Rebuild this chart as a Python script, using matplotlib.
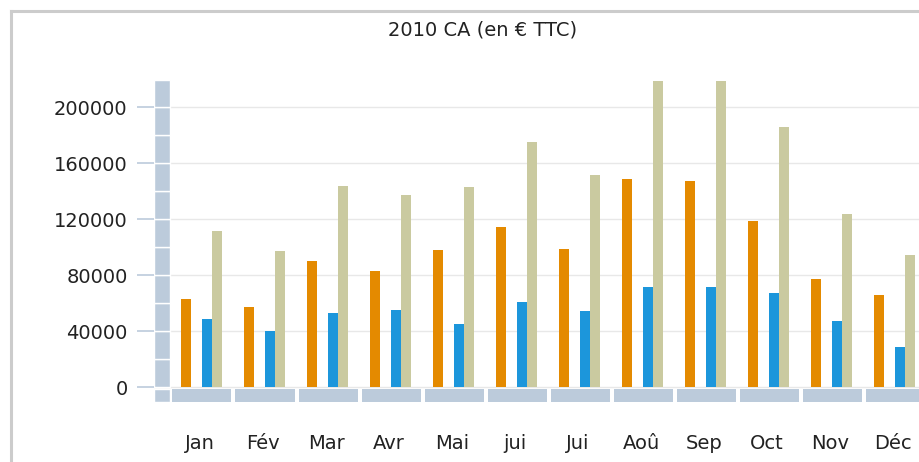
import numpy as np
import matplotlib
matplotlib.use("Agg")
import matplotlib.pyplot as plt

# Data
months = ['Jan', 'Fév', 'Mar', 'Avr', 'Mai', 'jui', 'Jui', 'Aoû', 'Sep', 'Oct', 'Nov', 'Déc']
orange_vals = [63300, 57600, 90400, 83300, 98000, 114700, 98600, 149000, 147600, 118600, 77600, 66200]
blue_vals = [49000, 40400, 53300, 55200, 45200, 60900, 54300, 71400, 71900, 67600, 47600, 29000]
khaki_vals = [111900, 97600, 143800, 137600, 143300, 175200, 151900, 219000, 219000, 185700, 123800, 94700]
y_ticks = [0, 40000, 80000, 120000, 160000, 200000]

c_orange = '#e48a00'
c_blue = '#1c96db'
c_khaki = '#cacaa0'
c_wall = '#bccbdb'
c_text = '#222222'

W, H = 920, 462
fig = plt.figure(figsize=(W / 100, H / 100), dpi=100)

# axes placed in pixel terms
left, right, top, bottom = 154, 920, 80, 402
ax = fig.add_axes([left / W, 1 - bottom / H, (right - left) / W, (bottom - top) / H])

px = 1 / 63  # one pixel in category units (63 px per month)
x = np.arange(len(months))
ymin, ymax = -10500, 219500
ax.set_xlim(-48 * px, 718 * px)
ax.set_ylim(ymin, ymax)

# grid
for t in y_ticks:
    ax.axhline(t, color='#e8e8e8', lw=1, zorder=0)

# left "wall"
wall_x = -40 * px
wall_w = 16 * px
seg = np.arange(0, y_ticks[-1], 20000)
ax.bar([wall_x] * len(seg), [20000] * len(seg), bottom=seg, width=wall_w,
       color=c_wall, edgecolor='white', linewidth=1, zorder=2)
ax.bar(wall_x, ymax - y_ticks[-1], bottom=y_ticks[-1], width=wall_w,
       color=c_wall, edgecolor='white', linewidth=1, zorder=2)
floor_bot, floor_top = ymin, -1200
ax.bar(wall_x, floor_top - floor_bot, bottom=floor_bot, width=wall_w,
       color=c_wall, edgecolor='white', linewidth=1, zorder=2)

# floor segments
ax.bar(x, floor_top - floor_bot, bottom=floor_bot, width=59 * px,
       color=c_wall, linewidth=0, zorder=2)

# series bars
bw = 10 * px
ax.bar(x - 21 * px, orange_vals, width=bw, align='edge', color=c_orange, zorder=3)
ax.bar(x, blue_vals, width=bw, align='edge', color=c_blue, zorder=3)
ax.bar(x + 10 * px, khaki_vals, width=bw, align='edge', color=c_khaki, zorder=3)

for s in ax.spines.values():
    s.set_visible(False)

ax.set_yticks(y_ticks)
ax.set_yticklabels([str(t) for t in y_ticks])
ax.tick_params(axis='y', length=12, width=1.2, color=c_wall, pad=7,
               labelsize=14, labelcolor=c_text)
ax.set_xticks(x - 2 * px)
ax.set_xticklabels(months)
ax.tick_params(axis='x', length=0, pad=23, labelsize=14, labelcolor=c_text)

fig.text(483 / W, 1 - 30 / H, '2010 CA (en € TTC)', ha='center', va='center',
         fontsize=14, color=c_text)

# outer frame (cut by the image edges)
fig.add_artist(plt.Line2D([11 / W, 11 / W], [0, 1 - 11 / H], color='#cccccc', lw=2.2,
                          transform=fig.transFigure))
fig.add_artist(plt.Line2D([11 / W, 1], [1 - 11 / H, 1 - 11 / H], color='#cccccc', lw=2.2,
                          transform=fig.transFigure))

fig.savefig('out.png', dpi=100)
